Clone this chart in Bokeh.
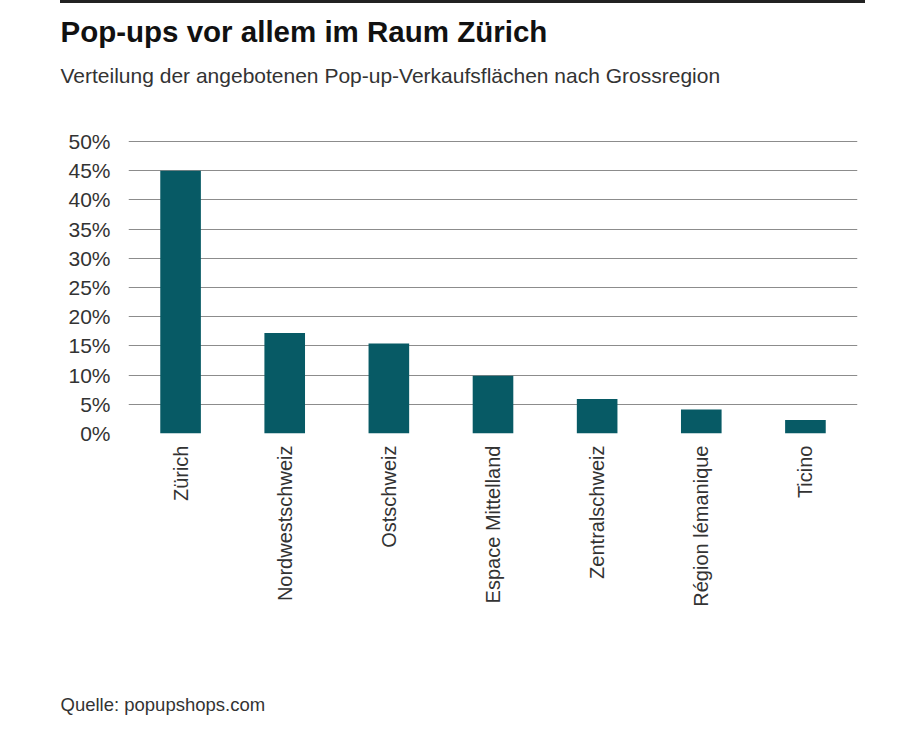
import math
from bokeh.plotting import figure
from bokeh.models import Title, Range1d, FixedTicker, Div
from bokeh.layouts import column
from bokeh.embed import file_html
from bokeh.resources import INLINE

regions = ["Zürich", "Nordwestschweiz", "Ostschweiz", "Espace Mittelland",
           "Zentralschweiz", "Région lémanique", "Ticino"]
shares = [45.0, 17.2, 15.4, 9.9, 5.9, 4.1, 2.3]
y_ticks = [0, 5, 10, 15, 20, 25, 30, 35, 40, 45, 50]
y_tick_labels = ["0%", "5%", "10%", "15%", "20%", "25%", "30%", "35%", "40%", "45%", "50%"]

title_text = "Pop-ups vor allem im Raum Zürich"
subtitle_text = "Verteilung der angebotenen Pop-up-Verkaufsflächen nach Grossregion"
source_text = "Quelle: popupshops.com"

FONT = "Liberation Sans"
BAR = "#075a65"
GRID = "#8c8c8c"

RULE_H = 3
W, H = 884, 712
# frame in page pixels: left 128, right 857, top 92, bottom 433 (0% line), 50% line at 141
FL, FR = 128, 857
FT, FB = 92 - RULE_H, 433 - RULE_H
PX_PER_PCT = (433 - 141) / 50
Y_MAX = 50 + (141 - 92) / PX_PER_PCT

rule = Div(text="", width=805, height=RULE_H, margin=(0, 0, 0, 60),
           styles={"background-color": "#222222"})

p = figure(x_range=regions, y_range=Range1d(0, Y_MAX), width=W, height=H,
           output_backend="svg", toolbar_location=None,
           min_border_left=FL, min_border_right=W - FR,
           min_border_top=FT, min_border_bottom=H - FB)

p.vbar(x=regions, top=shares, width=0.39, fill_color=BAR, line_color=None)

p.outline_line_color = None
p.background_fill_color = "white"
p.border_fill_color = "white"

# y axis
yax = p.yaxis[0]
yax.ticker = FixedTicker(ticks=y_ticks)
yax.major_label_overrides = {t: l for t, l in zip(y_ticks, y_tick_labels)}
yax.axis_line_color = None
yax.major_tick_line_color = None
yax.minor_tick_line_color = None
yax.major_tick_out = 0
yax.major_label_standoff = 18
yax.major_label_text_font = FONT
yax.major_label_text_font_size = "21px"
yax.major_label_text_color = "#333333"

# x axis
xax = p.xaxis[0]
xax.axis_line_color = None
xax.major_tick_line_color = None
xax.major_tick_out = 0
xax.major_label_orientation = math.pi / 2
xax.major_label_standoff = 12
xax.major_label_text_font = FONT
xax.major_label_text_font_size = "20px"
xax.major_label_text_color = "#333333"

# grid
p.xgrid.grid_line_color = None
p.ygrid.ticker = FixedTicker(ticks=y_ticks)
p.ygrid.grid_line_color = GRID
p.ygrid.grid_line_width = 1

# titles (first added sits nearest the plot)
p.add_layout(Title(text=subtitle_text, align="left", offset=-68,
                   text_font=FONT, text_font_style="normal",
                   text_font_size="21px", text_color="#333333",
                   standoff=11), "above")
p.add_layout(Title(text=title_text, align="left", offset=-68,
                   text_font=FONT, text_font_style="bold",
                   text_font_size="29.5px", text_color="#111111",
                   standoff=18), "above")
p.add_layout(Title(text=source_text, align="left", offset=-68,
                   text_font=FONT, text_font_style="normal",
                   text_font_size="18.5px", text_color="#333333",
                   standoff=0, padding=dict(left=0, right=0, top=82, bottom=0)),
             "below")

layout = column(rule, p)
open("out.html", "w").write(file_html(layout, INLINE))
